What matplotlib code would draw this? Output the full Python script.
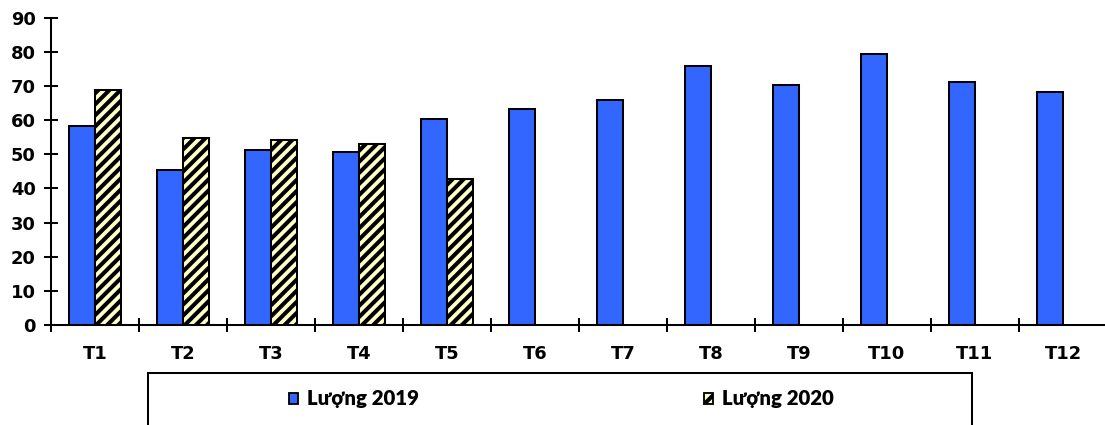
import matplotlib
matplotlib.use("Agg")
import matplotlib.pyplot as plt
from matplotlib import font_manager
from matplotlib.font_manager import FontProperties
from matplotlib.patches import Patch, Rectangle
import numpy as np

# data
months = ["T1", "T2", "T3", "T4", "T5", "T6", "T7", "T8", "T9", "T10", "T11", "T12"]
luong_2019 = [58.3, 45.5, 51.2, 50.7, 60.4, 63.1, 66.0, 75.8, 70.1, 79.2, 71.1, 68.2]
luong_2020 = [68.7, 54.8, 54.1, 53.1, 42.7]
yticks = [0, 10, 20, 30, 40, 50, 60, 70, 80, 90]

BLUE = "#3366FF"
YELLOW = "#FFFFCC"

W, H, DPI = 1105, 425, 133
plt.rcParams["hatch.linewidth"] = 2.2
plt.rcParams["hatch.color"] = "black"
plt.rcParams["font.family"] = "DejaVu Sans"
plt.rcParams["font.weight"] = "bold"


def font_file(files, size):
    # pick a font by its file so the heavy weight really applies
    for name in files:
        for f in font_manager.fontManager.ttflist:
            if f.fname.endswith("/" + name):
                return FontProperties(fname=f.fname, size=size)
    return FontProperties(family="DejaVu Sans", weight="bold", size=size)


fig = plt.figure(figsize=(W / DPI, H / DPI), dpi=DPI)
ax = fig.add_axes([51 / W, 100 / H, 1056 / W, 307.5 / H])

x = np.arange(len(months)) + 0.5
bw = 0.29
ax.bar(x - bw / 2, luong_2019, width=bw, color=BLUE, edgecolor="black", linewidth=1.1, zorder=2)
ax.bar(x[:len(luong_2020)] + bw / 2, luong_2020, width=bw, color=YELLOW, edgecolor="black",
       linewidth=1.1, hatch="////", zorder=2)

ax.set_xlim(0, 12)
ax.set_ylim(0, 90)
ax.set_yticks(yticks)
ax.set_xticks(np.arange(0, 13))
ax.set_xticklabels([])
ax.set_xticks(x, minor=True)

tick_fp = FontProperties(family="DejaVu Sans", weight="bold", size=9.7)
ax.set_yticklabels([str(v) for v in yticks], fontproperties=tick_fp)
ax.set_xticklabels(months, minor=True, fontproperties=tick_fp)

for s in ["top", "right"]:
    ax.spines[s].set_visible(False)
for s in ["left", "bottom"]:
    ax.spines[s].set_linewidth(1.1)

ax.tick_params(axis="both", which="major", direction="inout", length=7.6, width=1.1)
ax.tick_params(axis="y", pad=4.5)
ax.tick_params(axis="x", which="minor", length=0, pad=11)

# legend box, cut off by the bottom of the figure
fig.add_artist(Rectangle((148 / W, -0.1), (972 - 148) / W, (425 - 373) / H + 0.1,
                         transform=fig.transFigure, fill=False, edgecolor="black", linewidth=1.1))

h1 = Patch(facecolor=BLUE, edgecolor="black", linewidth=1.0, label="Lượng 2019")
h2 = Patch(facecolor=YELLOW, edgecolor="black", linewidth=1.0, hatch="//", label="Lượng 2020")
leg_fp = font_file(["Lato-ExtraBold.ttf", "Lato-Heavy.ttf", "Lato-Bold.ttf"], 11)
leg_kw = dict(frameon=False, borderpad=0, borderaxespad=0, handlelength=0.45, handleheight=0.45,
              handletextpad=0.45, loc="center left", prop=leg_fp)
fig.legend(handles=[h1], bbox_to_anchor=(289 / W, 1 - 399 / H), **leg_kw)
fig.legend(handles=[h2], bbox_to_anchor=(704 / W, 1 - 399 / H), **leg_kw)

fig.savefig("out.png", dpi=DPI)
